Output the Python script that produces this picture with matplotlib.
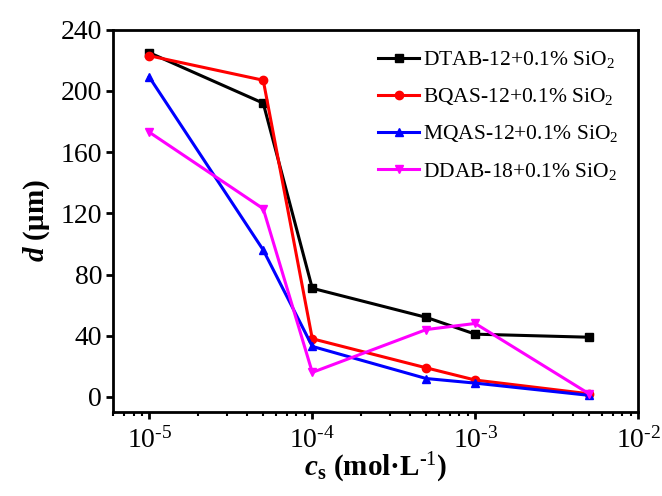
import matplotlib
matplotlib.use("Agg")
import matplotlib.pyplot as plt
from matplotlib.ticker import FuncFormatter
import numpy as np

plt.rcParams['font.family'] = ['Liberation Serif', 'DejaVu Serif']
plt.rcParams['mathtext.fontset'] = 'custom'
plt.rcParams['mathtext.rm'] = 'Liberation Serif'
plt.rcParams['mathtext.it'] = 'Liberation Serif:italic'
plt.rcParams['mathtext.bf'] = 'Liberation Serif:bold'
plt.rcParams['mathtext.bfit'] = 'Liberation Serif:italic:bold'
plt.rcParams['axes.unicode_minus'] = False

# concentration (mol/L)
conc = [1e-5, 5e-5, 1e-4, 5e-4, 1e-3, 5e-3]

# droplet size d (um)
dtab = [225, 192, 71, 52, 41, 39]
bqas = [223, 207, 38, 19, 11, 2]
mqas = [209, 96, 33, 12, 9, 1]
ddab = [173, 123, 16, 44, 48, 2]

labels = ['DTAB-12+0.1% SiO$_2$', 'BQAS-12+0.1% SiO$_2$',
          'MQAS-12+0.1% SiO$_2$', 'DDAB-18+0.1% SiO$_2$']

fig = plt.figure(figsize=(6.62, 4.96), dpi=100)
ax = fig.add_axes([0.171, 0.169, 0.793, 0.771])

series = [dtab, bqas, mqas, ddab]
colors = ['black', 'red', 'blue', 'magenta']
markers = ['s', 'o', '^', 'v']
for ys, c, m, lab in zip(series, colors, markers, labels):
    ax.plot(conc, ys, color=c, marker=m, markersize=6, lw=2.2, label=lab)

ax.set_xscale('log')
ax.set_xlim(6e-6, 1e-2)
ax.set_ylim(-10, 240)
ax.set_yticks([0, 40, 80, 120, 160, 200, 240])


def log_fmt(v, pos):
    # hyphen instead of the math minus, like the original
    e = int(round(np.log10(v)))
    return r'10$^{\text{%d}}$' % e


ax.xaxis.set_major_formatter(FuncFormatter(log_fmt))

for s in ax.spines.values():
    s.set_linewidth(2)
ax.tick_params(axis='both', which='major', direction='out', length=5, width=2,
               labelsize=20, top=False, right=False, pad=3)
ax.tick_params(axis='x', which='minor', direction='out', length=3, width=1.5)
ax.tick_params(axis='x', which='major', pad=6)

ax.set_ylabel(r'$\mathbfit{d}$ (μm)', fontsize=21, fontweight='bold', labelpad=6)
ax.set_xlabel(r'$\mathbfit{c}_\mathbf{s}$ (mol·L$^{\text{-1}}$)', fontsize=21,
              fontweight='bold', labelpad=-2)

ax.legend(loc='upper right', frameon=False, fontsize=15.5, handlelength=1.9,
          labelspacing=0.75, bbox_to_anchor=(1.0, 1.0), borderaxespad=0.4,
          handletextpad=0.2, borderpad=0.5)

fig.savefig('out.png', dpi=100)
